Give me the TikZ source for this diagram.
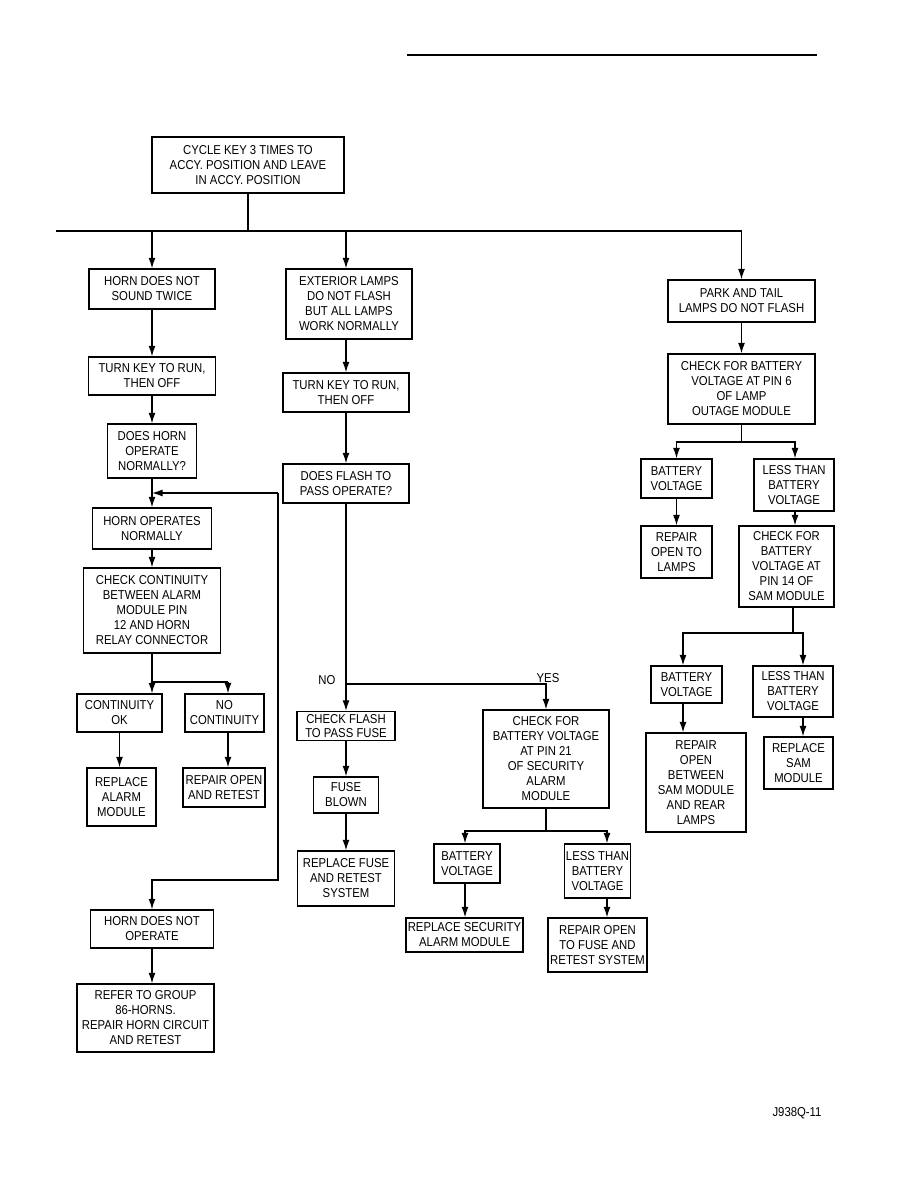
\documentclass[tikz,border=0pt]{standalone}
\usepackage{fontspec}
\setmainfont{Liberation Sans}[FakeStretch=0.88]
\usetikzlibrary{arrows.meta}
\tikzset{wh/.style 2 args={minimum width=#1*0.03cm, minimum height=#2*0.03cm}}

\begin{document}
\begin{tikzpicture}[x=0.03cm, y=-0.03cm,
  box/.style={draw, line width=1.1pt, align=center, inner sep=1pt,
    font=\fontsize{11}{12.8}\selectfont},
  arr/.style={-{Latex[length=9pt,width=6pt]}, line width=1.1pt},
  ln/.style={line width=1.1pt},
  lbl/.style={font=\fontsize{11}{12.8}\selectfont}]

\useasboundingbox (0,0) rectangle (918,1188);

\draw[line width=2pt] (407,55) -- (817,55);

% start
\node[box, wh={192}{56}] (cycle) at (248,165) {CYCLE KEY 3 TIMES TO\\ACCY. POSITION AND LEAVE\\IN ACCY. POSITION};

% horn column
\node[box, wh={126}{40}] (hornA) at (152,289) {HORN DOES NOT\\SOUND TWICE};
\node[box, wh={127}{38}] (keyA) at (152,376) {TURN KEY TO RUN,\\THEN OFF};
\node[box, wh={89}{54}] (askA) at (152,451) {DOES HORN\\OPERATE\\NORMALLY?};
\node[box, wh={119}{41}] (okA) at (152,528.5) {HORN OPERATES\\NORMALLY};
\node[box, wh={137}{85}] (contA) at (152,610.5) {CHECK CONTINUITY\\BETWEEN ALARM\\MODULE PIN\\12 AND HORN\\RELAY CONNECTOR};
\node[box, wh={85}{38}] (contok) at (119.5,713) {CONTINUITY\\OK};
\node[box, wh={79}{38}] (nocont) at (224.5,713) {NO\\CONTINUITY};
\node[box, wh={69}{58}] (replAlarm) at (121.5,797) {REPLACE\\ALARM\\MODULE};
\node[box, wh={82}{39}] (repOpen) at (224,787.5) {REPAIR OPEN\\AND RETEST};
\node[box, wh={123}{38}] (noOp) at (152,929) {HORN DOES NOT\\OPERATE};
\node[box, wh={137}{68}] (refer) at (145.5,1018) {REFER TO GROUP\\86-HORNS.\\REPAIR HORN CIRCUIT\\AND RETEST};

% lamps column
\node[box, wh={126}{70}] (extB) at (349,304) {EXTERIOR LAMPS\\DO NOT FLASH\\BUT ALL LAMPS\\WORK NORMALLY};
\node[box, wh={126}{39}] (keyB) at (346,392.5) {TURN KEY TO RUN,\\THEN OFF};
\node[box, wh={126}{39}] (askB) at (346,483.5) {DOES FLASH TO\\PASS OPERATE?};
\node[box, wh={98}{29}, font=\fontsize{11}{11.5}\selectfont] (fuseB) at (346,726) {CHECK FLASH\\TO PASS FUSE};
\node[box, wh={65}{36}] (blown) at (346,795) {FUSE\\BLOWN};
\node[box, wh={97}{55}] (replFuse) at (346,878.5) {REPLACE FUSE\\AND RETEST\\SYSTEM};
\node[box, wh={126}{98}] (pin21) at (546,759) {CHECK FOR\\BATTERY VOLTAGE\\AT PIN 21\\OF SECURITY\\ALARM\\MODULE};
\node[box, wh={66}{39}] (batC) at (467,863.5) {BATTERY\\VOLTAGE};
\node[box, wh={62}{54}] (lessC) at (597.5,871) {LESS THAN\\BATTERY\\VOLTAGE};
\node[box, wh={117}{34}] (replSec) at (464.5,935) {REPLACE SECURITY\\ALARM MODULE};
\node[box, wh={99}{54}] (repFuse) at (597.5,945) {REPAIR OPEN\\TO FUSE AND\\RETEST SYSTEM};

% park and tail column
\node[box, wh={147}{42}] (park) at (741.5,301) {PARK AND TAIL\\LAMPS DO NOT FLASH};
\node[box, wh={147}{70}] (pin6) at (741.5,389) {CHECK FOR BATTERY\\VOLTAGE AT PIN 6\\OF LAMP\\OUTAGE MODULE};
\node[box, wh={71}{39}] (batD) at (676.5,478.5) {BATTERY\\VOLTAGE};
\node[box, wh={80}{52}] (lessD) at (794,485) {LESS THAN\\BATTERY\\VOLTAGE};
\node[box, wh={71}{52}] (lampsD) at (676.5,552) {REPAIR\\OPEN TO\\LAMPS};
\node[box, wh={95}{81}] (pin14) at (786.5,566.5) {CHECK FOR\\BATTERY\\VOLTAGE AT\\PIN 14 OF\\SAM MODULE};
\node[box, wh={71}{37}] (batE) at (686.5,684.5) {BATTERY\\VOLTAGE};
\node[box, wh={80}{51}] (lessE) at (793,691.5) {LESS THAN\\BATTERY\\VOLTAGE};
\node[box, wh={100}{99}] (betwE) at (696,782.5) {REPAIR\\OPEN\\BETWEEN\\SAM MODULE\\AND REAR\\LAMPS};
\node[box, wh={69}{52}] (samE) at (798.5,763) {REPLACE\\SAM\\MODULE};

\node[lbl] (no) at (327,680) {NO};
\node[lbl] (yes) at (548,678) {YES};
\node[lbl] (figid) at (797,1113) {J938Q-11};

% junctions
\coordinate (busL) at (56,231);
\coordinate (busA) at (152,231);
\coordinate (busB) at (346,231);
\coordinate (busR) at (741.5,231);
\coordinate (fbTop) at (278,493);
\coordinate (fbBot) at (278,880);
\coordinate (brA) at (152,682);
\coordinate (aR) at (228,682);
\coordinate (split) at (346,684);
\coordinate (brC) at (546,831);
\coordinate (cL) at (465,831);
\coordinate (cR) at (607,831);
\coordinate (brD) at (741.5,442);
\coordinate (dL) at (676.5,442);
\coordinate (dR) at (795,442);
\coordinate (brE) at (793,633);
\coordinate (eL) at (683,633);
\coordinate (eR) at (803,633);

\draw[ln] (cycle.south) -- (cycle.south |- busL);
\draw[ln] (busL) -- (busR);
\draw[arr] (busA) -- (hornA.north);
\draw[arr] (busB) -- (busB |- extB.north);
\draw[arr] (busR) -- (park.north);

% horn
\draw[arr] (hornA) -- (keyA);
\draw[arr] (keyA) -- (askA);
\draw[arr] (askA) -- (okA);
\draw[arr] (okA) -- (contA);
\draw[arr] (fbTop) -- (fbTop -| askA.south);
\draw[arr] (fbTop) -- (fbBot) -| (noOp.north);
\draw[ln] (contA.south) -- (brA) -- (aR);
\draw[arr] (brA) -- (brA |- contok.north);
\draw[arr] (aR) -- (aR |- nocont.north);
\draw[arr] (contok.south) -- (contok.south |- replAlarm.north);
\draw[arr] (aR |- nocont.south) -- (aR |- repOpen.north);
\draw[arr] (noOp.south) -- (noOp.south |- refer.north);

% lamps
\draw[arr] (extB.south -| keyB) -- (keyB.north);
\draw[arr] (keyB) -- (askB);
\draw[ln] (askB.south) -- (split);
\draw[arr] (split) -- (fuseB.north);
\draw[arr] (split) -| (pin21.north);
\draw[arr] (fuseB) -- (blown);
\draw[arr] (blown) -- (replFuse);
\draw[ln] (pin21.south) -- (brC);
\draw[arr] (brC) -- (cL) -- (cL |- batC.north);
\draw[arr] (brC) -- (cR) -- (cR |- lessC.north);
\draw[arr] (cL |- batC.south) -- (cL |- replSec.north);
\draw[arr] (cR |- lessC.south) -- (cR |- repFuse.north);

% park and tail
\draw[arr] (park) -- (pin6);
\draw[ln] (pin6.south) -- (brD);
\draw[arr] (brD) -- (dL) -- (dL |- batD.north);
\draw[arr] (brD) -- (dR) -- (dR |- lessD.north);
\draw[arr] (dL |- batD.south) -- (dL |- lampsD.north);
\draw[arr] (dR |- lessD.south) -- (dR |- pin14.north);
\draw[ln] (brE |- pin14.south) -- (brE);
\draw[arr] (brE) -- (eL) -- (eL |- batE.north);
\draw[arr] (brE) -- (eR) -- (eR |- lessE.north);
\draw[arr] (eL |- batE.south) -- (eL |- betwE.north);
\draw[arr] (eR |- lessE.south) -- (eR |- samE.north);
\end{tikzpicture}
\end{document}
